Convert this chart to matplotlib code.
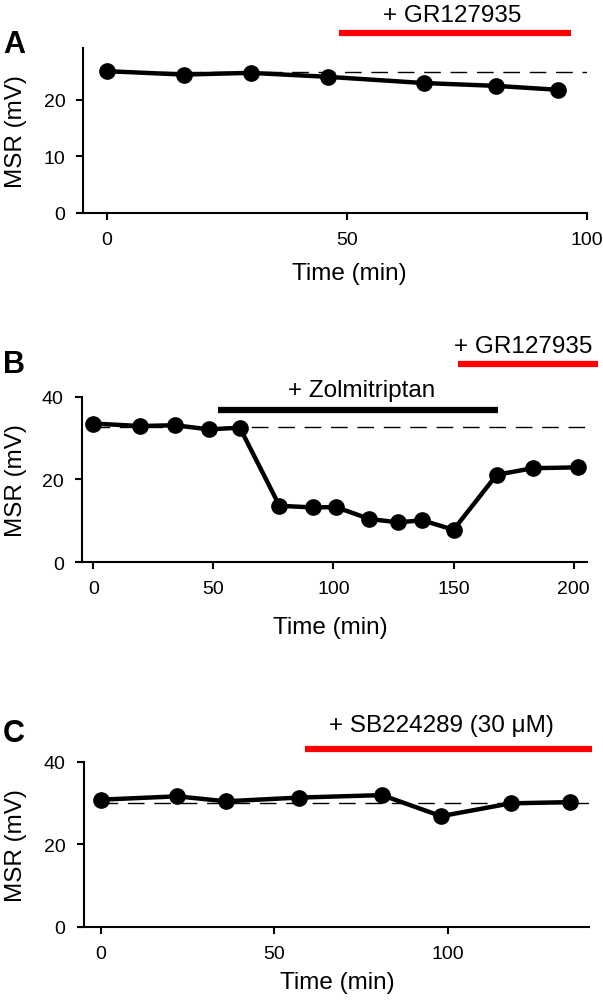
import matplotlib
matplotlib.use("Agg")
import matplotlib.pyplot as plt

plt.rcParams['font.family'] = ['Liberation Sans', 'DejaVu Sans']

# Panel A: control then GR127935
a_time = [0, 16, 30, 46, 66, 81, 94]
a_msr = [25.1, 24.5, 24.8, 24.1, 23.0, 22.5, 21.8]
a_baseline = 25.0

# Panel B: zolmitriptan then GR127935
b_time = [0, 19.5, 34, 48, 61, 77.5, 91.5, 101, 115, 127, 137, 150, 168, 183, 202]
b_msr = [33.5, 32.9, 33.1, 32.1, 32.5, 13.6, 13.2, 13.3, 10.4, 9.6, 10.1, 7.8, 21.1, 22.7, 22.9]
b_baseline = 32.6

# Panel C: SB224289
c_time = [0, 22, 36, 57, 81, 98, 118, 135]
c_msr = [30.8, 31.6, 30.4, 31.3, 31.9, 26.8, 29.9, 30.2]
c_baseline = 30.0

fig = plt.figure(figsize=(6.03, 10.03), dpi=100)
W, H = 603.0, 1003.0


def make_axes(left, right, top, bottom):
    return fig.add_axes([left / W, 1 - bottom / H, (right - left) / W, (bottom - top) / H])


def style(ax, xlim, ylim, spine_x, xticks, yticks):
    ax.set_xlim(*xlim)
    ax.set_ylim(*ylim)
    ax.spines['top'].set_visible(False)
    ax.spines['right'].set_visible(False)
    ax.spines['left'].set_position(('data', spine_x))
    for s in ('left', 'bottom'):
        ax.spines[s].set_linewidth(1.5)
    ax.set_xticks(xticks)
    ax.set_yticks(yticks)
    ax.tick_params(axis='both', width=1.5, length=5, labelsize=14, direction='out')
    ax.tick_params(axis='x', pad=8)
    ax.tick_params(axis='y', pad=8)
    ax.set_ylabel('MSR (mV)', fontsize=17.5)
    ax.set_xlabel('Time (min)', fontsize=17.5)


def plot_series(ax, t, y, base, x_end):
    ax.plot([0, x_end], [base, base], color='black', lw=1.0, dashes=(12, 7), zorder=1)
    ax.plot(t, y, color='black', lw=3.2, marker='o', markersize=11, zorder=3, clip_on=False)


def bar(ax, x0, x1, y, color, label, ty, tx):
    ax.plot([x0, x1], [y, y], color=color, lw=4.5, solid_capstyle='butt', clip_on=False)
    ax.text(tx, ty, label, ha='center', va='baseline', fontsize=17.5, clip_on=False)


# ---- A ----
axA = make_axes(79, 587, 49, 214)
style(axA, (-5.8, 100), (0, 29.2), -4.9, [0, 50, 100], [0, 10, 20])
plot_series(axA, a_time, a_msr, a_baseline, 100)
bar(axA, 48.3, 96.7, 31.9, '#ff0000', '+ GR127935', 34.0, 72)
axA.yaxis.set_label_coords(-0.102, 0.5)
axA.xaxis.set_label_coords(0.533, -0.297)
fig.text(3 / W, 1 - 53 / H, 'A', fontsize=22, fontweight='bold')

# ---- B ----
axB = make_axes(79, 586.5, 397.7, 563)
style(axB, (-6.0, 205.4), (0, 40), -4.8, [0, 50, 100, 150, 200], [0, 20, 40])
plot_series(axB, b_time, b_msr, b_baseline, 205.4)
bar(axB, 51.9, 168.5, 36.8, 'black', '+ Zolmitriptan', 40.1, 111.7)
bar(axB, 151.7, 210, 47.8, '#ff0000', '+ GR127935', 50.8, 179)
axB.yaxis.set_label_coords(-0.102, 0.5)
axB.xaxis.set_label_coords(0.496, -0.327)
fig.text(3 / W, 1 - 373 / H, 'B', fontsize=22, fontweight='bold')

# ---- C ----
axC = make_axes(79, 589, 762.7, 927.7)
style(axC, (-6.3, 140.6), (0, 40), -5.0, [0, 50, 100], [0, 20, 40])
plot_series(axC, c_time, c_msr, c_baseline, 140.6)
bar(axC, 58.8, 141.5, 43.0, '#ff0000', '+ SB224289 (30 \u03bcM)', 47.5, 98)
axC.yaxis.set_label_coords(-0.102, 0.5)
axC.xaxis.set_label_coords(0.506, -0.268)
fig.text(3 / W, 1 - 742 / H, 'C', fontsize=22, fontweight='bold')

fig.savefig('out.png', dpi=100)
